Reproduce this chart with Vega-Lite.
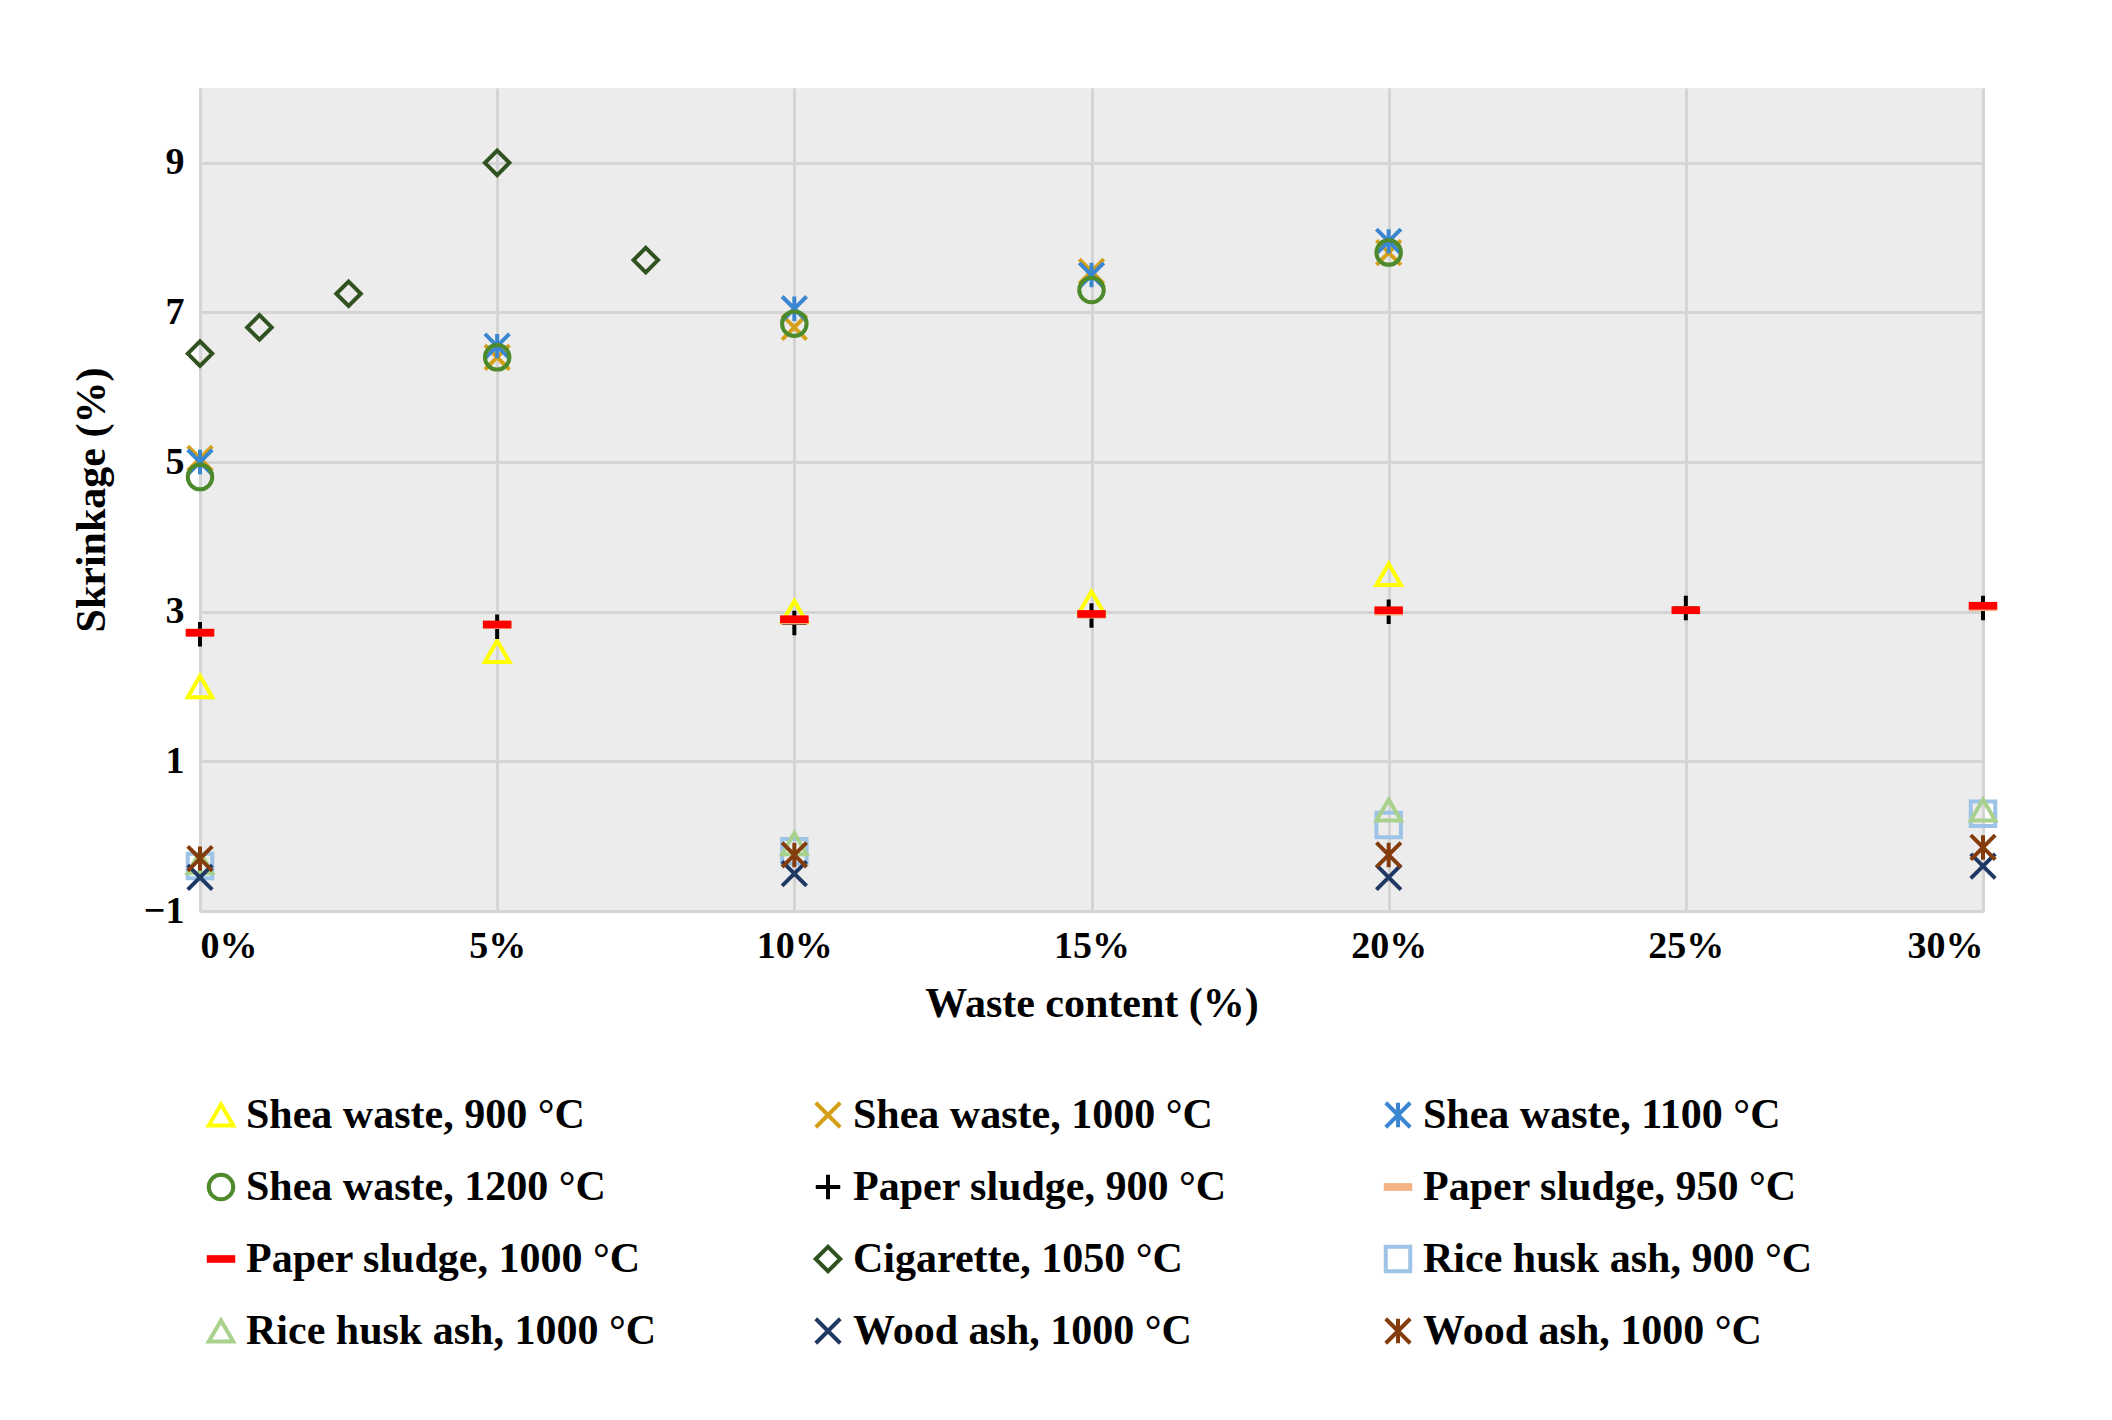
{
  "$schema": "https://vega.github.io/schema/vega-lite/v6.json",
  "width": 1783,
  "height": 823,
  "padding": {"left": 70, "top": 88, "right": 80, "bottom": 20},
  "background": "white",
  "data": {
    "values": [
      {"s": "Shea waste, 900 °C", "x": 0, "y": 2.0},
      {"s": "Shea waste, 900 °C", "x": 5, "y": 2.47},
      {"s": "Shea waste, 900 °C", "x": 10, "y": 3.0},
      {"s": "Shea waste, 900 °C", "x": 15, "y": 3.13},
      {"s": "Shea waste, 900 °C", "x": 20, "y": 3.5},
      {"s": "Shea waste, 1000 °C", "x": 0, "y": 5.05},
      {"s": "Shea waste, 1000 °C", "x": 5, "y": 6.4},
      {"s": "Shea waste, 1000 °C", "x": 10, "y": 6.8},
      {"s": "Shea waste, 1000 °C", "x": 15, "y": 7.55},
      {"s": "Shea waste, 1000 °C", "x": 20, "y": 7.8},
      {"s": "Shea waste, 1100 °C", "x": 0, "y": 5.0},
      {"s": "Shea waste, 1100 °C", "x": 5, "y": 6.55},
      {"s": "Shea waste, 1100 °C", "x": 10, "y": 7.05},
      {"s": "Shea waste, 1100 °C", "x": 15, "y": 7.5},
      {"s": "Shea waste, 1100 °C", "x": 20, "y": 7.95},
      {"s": "Shea waste, 1200 °C", "x": 0, "y": 4.8},
      {"s": "Shea waste, 1200 °C", "x": 5, "y": 6.4},
      {"s": "Shea waste, 1200 °C", "x": 10, "y": 6.85},
      {"s": "Shea waste, 1200 °C", "x": 15, "y": 7.3},
      {"s": "Shea waste, 1200 °C", "x": 20, "y": 7.8},
      {"s": "Paper sludge, 900 °C", "x": 0, "y": 2.7},
      {"s": "Paper sludge, 900 °C", "x": 5, "y": 2.8},
      {"s": "Paper sludge, 900 °C", "x": 10, "y": 2.85},
      {"s": "Paper sludge, 900 °C", "x": 15, "y": 2.95},
      {"s": "Paper sludge, 900 °C", "x": 20, "y": 3.0},
      {"s": "Paper sludge, 900 °C", "x": 25, "y": 3.05},
      {"s": "Paper sludge, 900 °C", "x": 30, "y": 3.05},
      {"s": "Paper sludge, 950 °C", "x": 0, "y": 2.72},
      {"s": "Paper sludge, 950 °C", "x": 5, "y": 2.82},
      {"s": "Paper sludge, 950 °C", "x": 10, "y": 2.88},
      {"s": "Paper sludge, 950 °C", "x": 15, "y": 2.96},
      {"s": "Paper sludge, 950 °C", "x": 20, "y": 3.0},
      {"s": "Paper sludge, 950 °C", "x": 25, "y": 3.02},
      {"s": "Paper sludge, 950 °C", "x": 30, "y": 3.06},
      {"s": "Paper sludge, 1000 °C", "x": 0, "y": 2.72},
      {"s": "Paper sludge, 1000 °C", "x": 5, "y": 2.83},
      {"s": "Paper sludge, 1000 °C", "x": 10, "y": 2.9},
      {"s": "Paper sludge, 1000 °C", "x": 15, "y": 2.97},
      {"s": "Paper sludge, 1000 °C", "x": 20, "y": 3.02},
      {"s": "Paper sludge, 1000 °C", "x": 25, "y": 3.02},
      {"s": "Paper sludge, 1000 °C", "x": 30, "y": 3.08},
      {"s": "Cigarette, 1050 °C", "x": 0, "y": 6.45},
      {"s": "Cigarette, 1050 °C", "x": 1, "y": 6.8},
      {"s": "Cigarette, 1050 °C", "x": 2.5, "y": 7.25},
      {"s": "Cigarette, 1050 °C", "x": 5, "y": 9.0},
      {"s": "Cigarette, 1050 °C", "x": 7.5, "y": 7.7},
      {"s": "Rice husk ash, 900 °C", "x": 0, "y": -0.4},
      {"s": "Rice husk ash, 900 °C", "x": 10, "y": -0.2},
      {"s": "Rice husk ash, 900 °C", "x": 20, "y": 0.15},
      {"s": "Rice husk ash, 900 °C", "x": 30, "y": 0.3},
      {"s": "Rice husk ash, 1000 °C", "x": 0, "y": -0.35},
      {"s": "Rice husk ash, 1000 °C", "x": 10, "y": -0.1},
      {"s": "Rice husk ash, 1000 °C", "x": 20, "y": 0.35},
      {"s": "Rice husk ash, 1000 °C", "x": 30, "y": 0.35},
      {"s": "Wood ash, 1000 °C", "x": 0, "y": -0.55},
      {"s": "Wood ash, 1000 °C", "x": 10, "y": -0.5},
      {"s": "Wood ash, 1000 °C", "x": 20, "y": -0.55},
      {"s": "Wood ash, 1000 °C", "x": 30, "y": -0.4},
      {"s": "Wood ash, 1000 °C ", "x": 0, "y": -0.3},
      {"s": "Wood ash, 1000 °C ", "x": 10, "y": -0.25},
      {"s": "Wood ash, 1000 °C ", "x": 20, "y": -0.25},
      {"s": "Wood ash, 1000 °C ", "x": 30, "y": -0.15}
    ]
  },
  "mark": {"type": "point", "filled": false, "strokeWidth": 4, "size": 600, "opacity": 1},
  "encoding": {
    "x": {
      "field": "x", "type": "quantitative",
      "scale": {"domain": [0, 30], "nice": false},
      "axis": {"values": [0, 5, 10, 15, 20, 25, 30], "labelExpr": "datum.value + '%'", "title": "Waste content (%)", "titlePadding": 18}
    },
    "y": {
      "field": "y", "type": "quantitative",
      "scale": {"domain": [-1, 10], "nice": false},
      "axis": {"values": [-1, 1, 3, 5, 7, 9], "labelExpr": "datum.value < 0 ? '−1' : datum.label", "title": "Skrinkage (%)", "titlePadding": 30}
    },
    "color": {
      "field": "s", "type": "nominal",
      "scale": {
        "domain": ["Shea waste, 900 °C", "Shea waste, 1000 °C", "Shea waste, 1100 °C", "Shea waste, 1200 °C", "Paper sludge, 900 °C", "Paper sludge, 950 °C", "Paper sludge, 1000 °C", "Cigarette, 1050 °C", "Rice husk ash, 900 °C", "Rice husk ash, 1000 °C", "Wood ash, 1000 °C", "Wood ash, 1000 °C "],
        "range": ["#ffff00", "#d4a017", "#3a86d0", "#4d8a2c", "#000000", "#f4b183", "#ff0000", "#2f5220", "#9dc3e6", "#a9d18e", "#1f3864", "#843c0c"]
      },
      "legend": {"title": null, "orient": "bottom", "columns": 3, "columnPadding": 150, "rowPadding": 30, "symbolSize": 600, "symbolStrokeWidth": 4, "labelLimit": 700, "offset": 70, "direction": "horizontal"}
    },
    "shape": {
      "field": "s", "type": "nominal",
      "scale": {
        "domain": ["Shea waste, 900 °C", "Shea waste, 1000 °C", "Shea waste, 1100 °C", "Shea waste, 1200 °C", "Paper sludge, 900 °C", "Paper sludge, 950 °C", "Paper sludge, 1000 °C", "Cigarette, 1050 °C", "Rice husk ash, 900 °C", "Rice husk ash, 1000 °C", "Wood ash, 1000 °C", "Wood ash, 1000 °C "],
        "range": ["triangle-up", "M-1,-1L1,1M1,-1L-1,1", "M-1,-1L1,1M1,-1L-1,1M0,-1L0,1", "circle", "M-1,0L1,0M0,-1L0,1", "M-1,-0.15L1,-0.15L1,0.15L-1,0.15Z", "M-1,-0.15L1,-0.15L1,0.15L-1,0.15Z", "diamond", "square", "triangle-up", "M-1,-1L1,1M1,-1L-1,1", "M-1,-1L1,1M1,-1L-1,1M0,-1L0,1"]
      },
      "legend": null
    }
  },
  "config": {
    "font": "Liberation Serif",
    "view": {"fill": "#ececec", "stroke": null},
    "axis": {"labelFont": "Liberation Serif", "titleFont": "Liberation Serif", "labelFontWeight": "bold", "titleFontWeight": "bold", "labelFontSize": 38, "titleFontSize": 42, "labelColor": "black", "titleColor": "black", "grid": true, "gridColor": "#d4d4d4", "gridWidth": 3, "domain": false, "ticks": false, "labelPadding": 16},
    "legend": {"labelFont": "Liberation Serif", "labelFontSize": 42, "labelFontWeight": "bold", "labelColor": "black"}
  }
}
